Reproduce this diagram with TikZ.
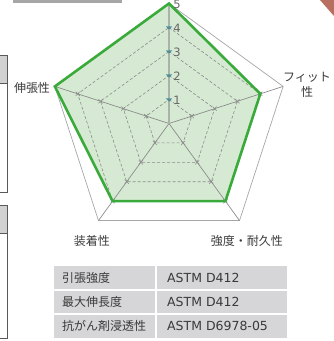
\documentclass[tikz,border=0pt]{standalone}
\usepackage{fontspec}
\setmainfont{Noto Sans CJK JP}
\newfontfamily\dv{DejaVu Sans}
\usetikzlibrary{shapes.misc}
\definecolor{gline}{HTML}{3AAA3A}
\definecolor{gfill}{HTML}{D6EAD3}
\definecolor{tealc}{HTML}{4F8E9C}
\definecolor{tabg}{HTML}{D6D6D8}
\definecolor{txt}{HTML}{3A3A3A}
\definecolor{redc}{HTML}{B7705F}
\definecolor{tspk}{HTML}{A8B4A8}
\begin{document}
\begin{tikzpicture}[x=1pt,y=-1pt,
  spoke/.style={draw=black!45, line width=0.7pt},
  topspoke/.style={draw=tspk, line width=1.4pt},
  gridline/.style={draw=black!45, dash pattern=on 3pt off 2pt, line width=0.6pt},
  outerline/.style={draw=black!35, line width=0.7pt},
  xmark/.style={cross out, draw=black!45, minimum size=3.5pt, inner sep=0pt, line width=0.6pt},
  lbl/.style={font=\fontsize{12}{15}\selectfont, text=txt, inner sep=0pt},
  num/.style={font=\dv\fontsize{11.5}{12}\selectfont, text=black!60, inner sep=0pt},
  cell/.style={font=\fontsize{12}{14}\selectfont, text=txt, inner sep=0pt, anchor=west},
  cellA/.style={font=\dv\fontsize{12.5}{14}\selectfont, text=txt, inner sep=0pt, anchor=west},
  boxline/.style={draw=black!65, line width=0.9pt}
]
\useasboundingbox (0,0) rectangle (334,341);
% page fragments
\fill[black!35] (13,0) rectangle (122,3);
\fill[redc] (320,0) -- (334,0) -- (334,16) -- cycle;
\fill[black!18] (-2,55) rectangle (7,83);
\draw[boxline] (-2,55) -- (7,55) -- (7,192) -- (-2,192);
\draw[boxline] (-2,83) -- (7,83);
\fill[black!18] (-2,205) rectangle (7,233);
\draw[boxline] (-2,205) -- (7,205) -- (7,338) -- (-2,338);
\draw[boxline] (-2,233) -- (7,233);
% radar
\begin{scope}[shift={(169,123.5)}, x=24pt, y=24pt]
  \draw[outerline] (90:5) -- (18:5) -- (-54:5) -- (-126:5) -- (162:5) -- cycle;
  \fill[gfill] (90:5) -- (18:4) -- (-54:4) -- (-126:4) -- (162:5) -- cycle;
  \foreach \r in {1,...,4}
    \draw[gridline] (90:\r) -- (18:\r) -- (-54:\r) -- (-126:\r) -- (162:\r) -- cycle;
  \foreach \a in {18,-54,-126,162}
    \draw[spoke] (0,0) -- (\a:5);
  \foreach \a in {18,-54,-126,162}
    \foreach \r in {1,...,4}
      \node[xmark] at (\a:\r) {};
  \draw[topspoke] (0,0) -- (90:5);
  \draw[gline, line width=2.6pt, line join=miter] (90:5) -- (18:4) -- (-54:4) -- (-126:4) -- (162:5) -- cycle;
  \foreach \r in {1,...,4}
    \fill[tealc] (90:\r) ++(-3.2pt,1.2pt) -- ++(6.4pt,0) -- ++(-3.2pt,-3.2pt) -- cycle;
  \foreach \r in {1,...,5}
    \node[num, xshift=8pt, yshift=-1pt] at (90:\r) {\r};
\end{scope}
% axis labels
\node[lbl] (lA) at (32,88) {伸張性};
\node[lbl, align=center] (lB) at (307,85) {フィット\\性};
\node[lbl] (lC) at (92,241) {装着性};
\node[lbl] (lD) at (247,241) {強度・耐久性};
% table
\fill[tabg] (54,266) rectangle (287,338);
\draw[white, line width=1.6pt] (156,266) -- (156,338);
\draw[white, line width=1.6pt] (54,290) -- (287,290);
\draw[white, line width=1.6pt] (54,314) -- (287,314);
\node[cell] (t1) at (62,278) {引張強度};
\node[cell] (t2) at (62,302) {最大伸長度};
\node[cell] (t3) at (62,326) {抗がん剤浸透性};
\node[cellA] (s1) at (167,278) {ASTM D412};
\node[cellA] (s2) at (167,302) {ASTM D412};
\node[cellA] (s3) at (167,326) {ASTM D6978-05};
\end{tikzpicture}
\end{document}
